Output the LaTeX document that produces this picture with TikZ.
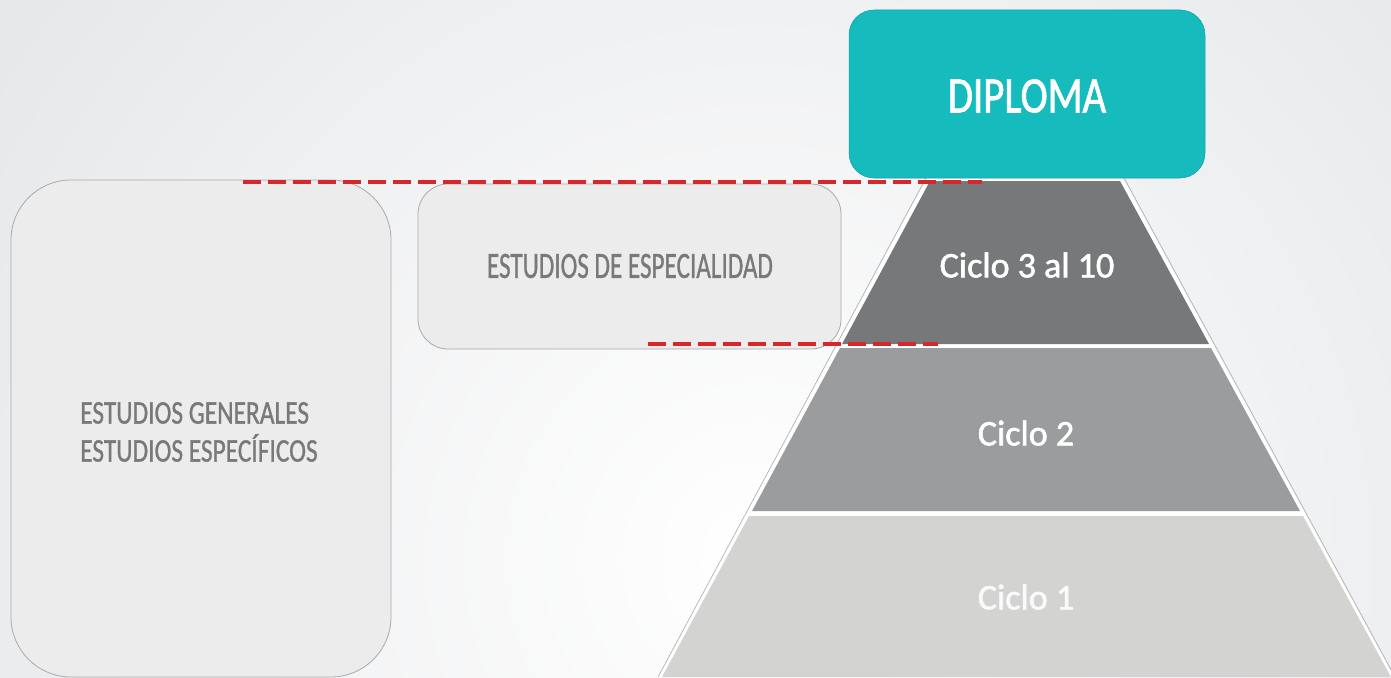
\documentclass[tikz,border=0pt]{standalone}
\usepackage{fontspec}
\setmainfont{Carlito}
\newfontfamily\heavy[FakeBold=1.6]{Carlito}
\newfontfamily\medium[FakeBold=1.1]{Carlito}
\usetikzlibrary{calc}
\definecolor{bgedge}{HTML}{D1D4D8}
\definecolor{boxfill}{HTML}{ECECEC}
\definecolor{boxline}{HTML}{A9AAAC}
\definecolor{teal}{HTML}{15BBBD}
\definecolor{tierA}{HTML}{76787A}
\definecolor{tierB}{HTML}{9A9C9D}
\definecolor{tierC}{HTML}{D3D4D2}
\definecolor{txtgray}{HTML}{77797B}
\definecolor{dashred}{HTML}{D6272A}
\tikzset{
  panel/.style={fill=boxfill, draw=boxline, line width=0.8pt},
  tierlabel/.style={text=white, font=\heavy\fontsize{36}{36}\selectfont, inner sep=0pt},
  graylabel/.style={text=txtgray, inner sep=0pt},
  reddash/.style={draw=dashred, line width=3.4pt, dash pattern=on 18pt off 7pt},
}
\begin{document}
\begin{tikzpicture}[x=1pt,y=-1pt]
\useasboundingbox (0,0) rectangle (1391,677);
% background
\begin{scope}
\clip (0,0) rectangle (1391,677);
\shade[inner color=white, outer color=bgedge] (760,560) circle (1700);
\end{scope}
% left panel
\draw[panel, rounded corners=60pt] (11,180) rectangle (391,677);
\node[graylabel, anchor=west, align=left, font=\medium\fontsize{33}{38}\selectfont] (gen) at (80,432)
  {\scalebox{0.77}[1]{ESTUDIOS GENERALES}\\\scalebox{0.77}[1]{ESTUDIOS ESPECÍFICOS}};
% middle panel
\draw[panel, rounded corners=30pt] (418,184) rectangle (841,349);
\node[graylabel, font=\medium\fontsize{37}{37}\selectfont] (esp) at (630,266)
  {\scalebox{0.68}[1]{ESTUDIOS DE ESPECIALIDAD}};
% pyramid outline
\coordinate (pTL) at (930,181);
\coordinate (pTR) at (1120,181);
\coordinate (pBL) at (662,677);
\coordinate (pBR) at (1391,677);
\fill[white] (928,177) -- (1122,177) -- (1394,677) -- (659,677) -- cycle;
\draw[draw=boxline, line width=0.6pt] (927,176) -- (658,677);
\draw[draw=boxline, line width=0.6pt] (1123,176) -- (1395,677);
% tiers
\fill[tierA] (930,181) -- (1120,181) -- (1209,344) -- (842,344) -- cycle;
\fill[tierB] (840,348) -- (1211,348) -- (1300,511) -- (752,511) -- cycle;
\fill[tierC] (749,516) -- (1303,516) -- (1391,677) -- (662,677) -- cycle;
\node[tierlabel] (c3) at (1027,265) {Ciclo 3 al 10};
\node[tierlabel] (c2) at (1026,433) {Ciclo 2};
\node[tierlabel, text=white!96!gray] (c1) at (1026,597) {Ciclo 1};
% diploma
\draw[fill=teal, draw=teal!85!black, line width=0.5pt, rounded corners=25pt] (849,10) rectangle (1205,178);
\node[text=white, inner sep=0pt, font=\heavy\fontsize{51}{51}\selectfont] (dip) at (1027,96)
  {\scalebox{0.8}[1]{DIPLOMA}};
% dashed lines
\coordinate (d1a) at (243,182);
\coordinate (d1b) at (982,182);
\coordinate (d2a) at (648,344);
\coordinate (d2b) at (938,344);
\draw[reddash] (d1a) -- (d1b);
\draw[reddash] (d2a) -- (d2b);
\end{tikzpicture}
\end{document}
